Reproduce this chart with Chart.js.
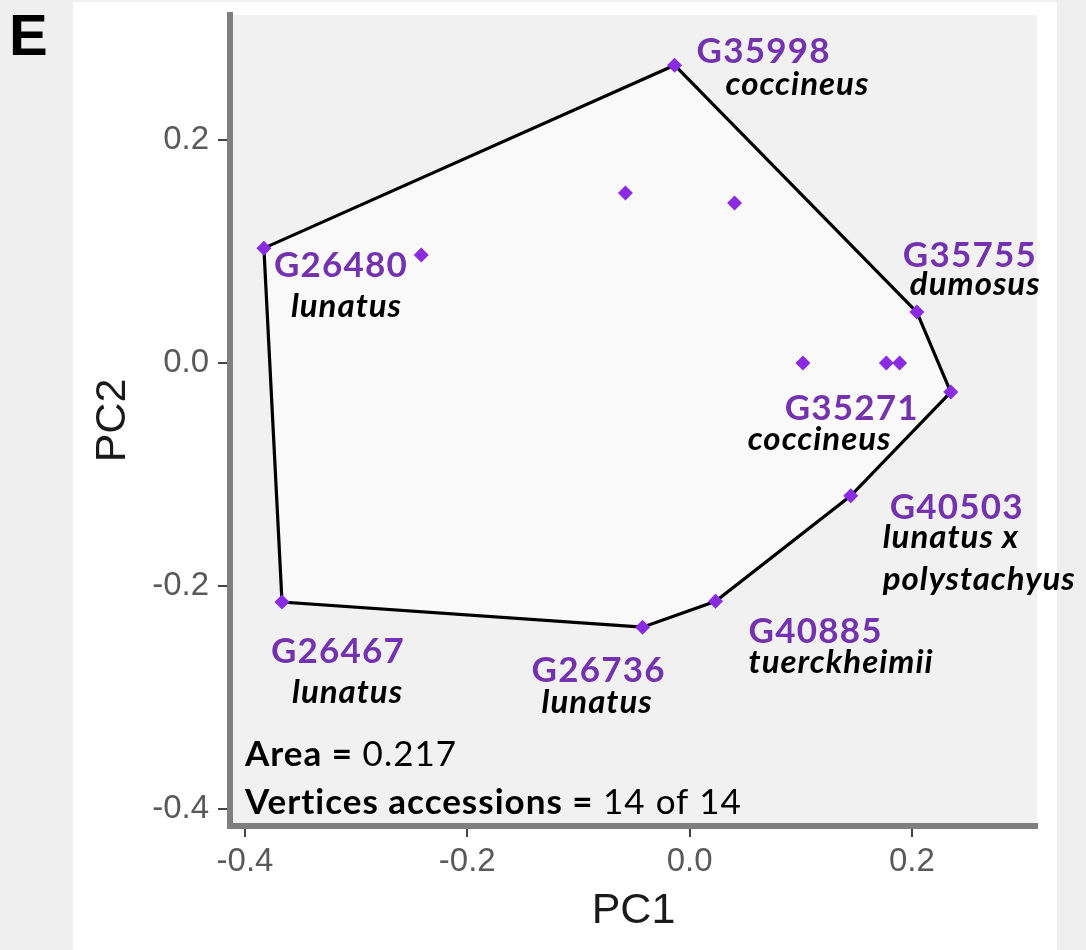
<!DOCTYPE html>
<html>
<head>
<meta charset="utf-8">
<script src="https://cdn.jsdelivr.net/npm/chart.js@4.4.1/dist/chart.umd.min.js"></script>
<style>
  html, body { margin: 0; padding: 0; background: #f0f0f0; }
  #wrap { width: 1086px; height: 950px; }
</style>
</head>
<body>
<div id="wrap"><canvas id="pcaHull" width="1086" height="950"></canvas></div>
<script>
// accessions in the PCA (unlabelled ones have no id in the figure)
const ids = ['G35998', '', '', 'G26480', '', 'G35755', '', '', '', 'G35271', 'G40503', 'G40885', 'G26736', 'G26467'];
const species = ['coccineus', '', '', 'lunatus', '', 'dumosus', '', '', '', 'coccineus',
                 'lunatus x\npolystachyus', 'tuerckheimii', 'lunatus', 'lunatus'];
const pc1 = [-0.0135, -0.0577, 0.0405, -0.383, -0.2414, 0.2045, 0.102, 0.177, 0.189, 0.235, 0.145, 0.0234, -0.0423, -0.3667];
const pc2 = [0.267, 0.1525, 0.1435, 0.103, 0.0969, 0.0457, 0.0, 0.0, 0.0, -0.026, -0.119, -0.2135, -0.2368, -0.2143];

// convex hull, in drawing order
const hullIds = ['G35998', 'G35755', 'G35271', 'G40503', 'G40885', 'G26736', 'G26467', 'G26480'];

const xTicks = [-0.4, -0.2, 0.0, 0.2];
const xTickLabels = ['-0.4', '-0.2', '0.0', '0.2'];
const yTicks = [-0.4, -0.2, 0.0, 0.2];
const yTickLabels = ['-0.4', '-0.2', '0.0', '0.2'];

const hullArea = '0.217';
const nVertices = 14;
const nAccessions = 14;

// label placement, pixels from the point
const labelOffsets = {
    G35998: { id: [22, -2], sp: [51, 30] },
    G26480: { id: [10, 29], sp: [27, 69] },
    G35755: { id: [-14, -45], sp: [-7, -17] },
    G35271: { id: [-166, 28], sp: [-203, 58] },
    G40503: { id: [39, 23], sp: [32, 52] },
    G40885: { id: [33, 42], sp: [33, 72] },
    G26736: { id: [-111, 55], sp: [-101, 86] },
    G26467: { id: [-11, 61], sp: [10, 101] }
};

const points = pc1.map((x, i) => ({ x: x, y: pc2[i] }));
const hullPts = hullIds.map(id => points[ids.indexOf(id)]);
const hullLine = hullPts.concat([hullPts[0]]);

const PURPLE = '#8a2be2';
const LABEL_PURPLE = '#7432ae';
const LABEL_FONT = 'Lato, "Open Sans", sans-serif';

const backgroundPlugin = {
    id: 'panelBg',
    beforeDraw(chart) {
        const ctx = chart.ctx;
        const a = chart.chartArea;
        ctx.save();
        ctx.fillStyle = '#efefef';
        ctx.fillRect(0, 0, chart.width, chart.height);
        ctx.fillStyle = '#ffffff';
        ctx.fillRect(73, 2, 984, chart.height - 2);
        ctx.fillStyle = '#f1f1f1';
        ctx.fillRect(a.left, a.top, a.right - a.left, a.bottom - a.top);
        // panel letter
        ctx.fillStyle = '#000';
        ctx.font = 'bold 58px "Liberation Sans", Arial, sans-serif';
        ctx.textBaseline = 'alphabetic';
        ctx.fillText('E', 9, 55);
        ctx.restore();
    },
    beforeDatasetsDraw(chart) {
        const ctx = chart.ctx;
        const xs = chart.scales.x, ys = chart.scales.y;
        ctx.save();
        ctx.beginPath();
        hullPts.forEach((p, i) => {
            const px = xs.getPixelForValue(p.x), py = ys.getPixelForValue(p.y);
            if (i === 0) ctx.moveTo(px, py); else ctx.lineTo(px, py);
        });
        ctx.closePath();
        ctx.fillStyle = '#f9f9f9';
        ctx.fill();
        ctx.restore();
    }
};

const labelPlugin = {
    id: 'hullLabels',
    afterDatasetsDraw(chart) {
        const ctx = chart.ctx;
        const xs = chart.scales.x, ys = chart.scales.y;
        const a = chart.chartArea;
        ctx.save();
        ctx.textBaseline = 'alphabetic';
        ctx.textAlign = 'left';
        ids.forEach((id, i) => {
            const off = labelOffsets[id];
            if (!off) return;
            const px = xs.getPixelForValue(pc1[i]);
            const py = ys.getPixelForValue(pc2[i]);
            ctx.fillStyle = LABEL_PURPLE;
            ctx.font = 'bold 35px ' + LABEL_FONT;
            ctx.letterSpacing = '1.2px';
            ctx.fillText(id, px + off.id[0], py + off.id[1]);
            ctx.fillStyle = '#000';
            ctx.font = 'italic bold 33px ' + LABEL_FONT;
            ctx.letterSpacing = '1px';
            species[i].split('\n').forEach((line, k) => {
                ctx.fillText(line, px + off.sp[0], py + off.sp[1] + k * 42);
            });
        });

        // hull summary
        ctx.letterSpacing = '1px';
        const drawParts = (parts, x, y) => {
            parts.forEach(([txt, bold]) => {
                ctx.font = (bold ? 'bold ' : '') + '35px ' + LABEL_FONT;
                ctx.fillText(txt, x, y);
                x += ctx.measureText(txt).width;
            });
        };
        ctx.fillStyle = '#000';
        drawParts([['Area = ', true], [hullArea, false]], a.left + 15, a.bottom - 60);
        drawParts([['Vertices accessions = ', true], [nVertices + ' of ' + nAccessions, false]], a.left + 15, a.bottom - 12);
        ctx.restore();
    }
};

const noScalePadding = s => {
    s.paddingTop = 0;
    s.paddingBottom = 0;
    s.paddingLeft = 0;
    s.paddingRight = 0;
};

new Chart(document.getElementById('pcaHull'), {
    type: 'scatter',
    data: {
        datasets: [
            {
                label: 'accessions',
                data: points,
                pointStyle: 'rectRot',
                pointRadius: 7.5,
                pointBackgroundColor: PURPLE,
                pointBorderWidth: 0,
                order: 0
            },
            {
                label: 'hull',
                data: hullLine,
                showLine: true,
                borderColor: '#000',
                borderWidth: 3.2,
                pointRadius: 0,
                fill: false,
                order: 1
            }
        ]
    },
    options: {
        responsive: false,
        animation: false,
        devicePixelRatio: 1,
        layout: { padding: { left: 0, right: 49, top: 15, bottom: 0 } },
        plugins: { legend: { display: false }, tooltip: { enabled: false } },
        scales: {
            x: {
                type: 'linear',
                min: -0.4135,
                max: 0.3126,
                afterBuildTicks: s => { s.ticks = xTicks.map(v => ({ value: v })); },
                afterFit: s => { s.height = 124; noScalePadding(s); },
                ticks: {
                    callback: v => xTickLabels[xTicks.indexOf(v)],
                    font: { family: '"Liberation Sans", Arial, sans-serif', size: 33 },
                    color: '#595959',
                    padding: 5,
                    maxRotation: 0
                },
                grid: { drawOnChartArea: false, drawTicks: true, tickLength: 11, color: '#444', lineWidth: 2 },
                border: { display: true, color: '#7f7f7f', width: 6 },
                title: {
                    display: true,
                    text: 'PC1',
                    font: { family: '"Liberation Sans", Arial, sans-serif', size: 43 },
                    color: '#1a1a1a',
                    padding: { top: 0, bottom: 13 }
                }
            },
            y: {
                type: 'linear',
                min: -0.415,
                max: 0.312,
                afterBuildTicks: s => { s.ticks = yTicks.map(v => ({ value: v })); },
                afterFit: s => { s.width = 230; noScalePadding(s); },
                ticks: {
                    callback: v => yTickLabels[yTicks.indexOf(v)],
                    font: { family: '"Liberation Sans", Arial, sans-serif', size: 33 },
                    color: '#595959',
                    padding: 9
                },
                grid: { drawOnChartArea: false, drawTicks: true, tickLength: 12, color: '#444', lineWidth: 2 },
                border: { display: true, color: '#7f7f7f', width: 6 },
                title: {
                    display: true,
                    text: 'PC2',
                    font: { family: '"Liberation Sans", Arial, sans-serif', size: 43 },
                    color: '#1a1a1a',
                    padding: { top: 87, bottom: 0 }
                }
            }
        }
    },
    plugins: [backgroundPlugin, labelPlugin]
});
</script>
</body>
</html>
